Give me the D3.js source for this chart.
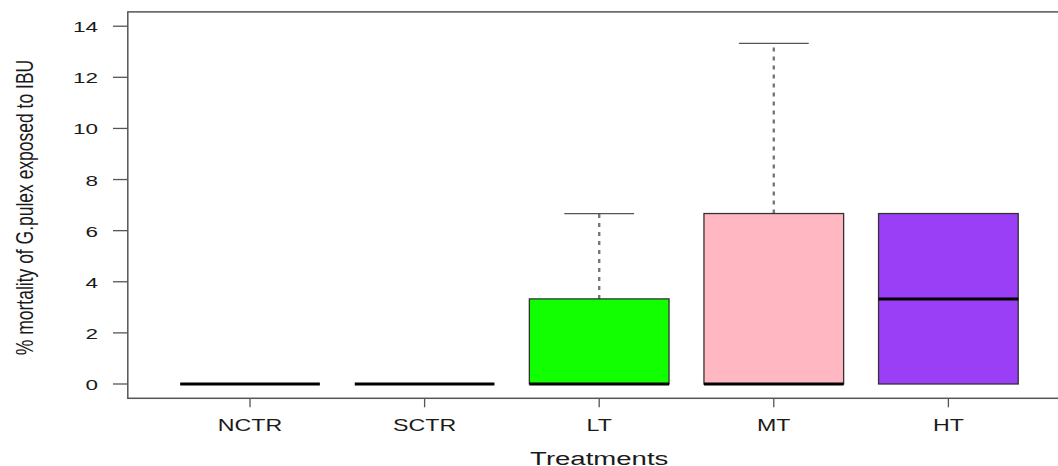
<!DOCTYPE html>
<html>
<head>
<meta charset="utf-8">
<script src="https://cdn.jsdelivr.net/npm/d3@7"></script>
<style>
  body { margin: 0; background: #fff; }
  svg { display: block; }
  text { font-family: "Liberation Sans", Arial, sans-serif; fill: #1a1a1a; }
</style>
</head>
<body>
<svg width="1058" height="466"></svg>
<script>
// boxplot summary per treatment
var treatments   = ["NCTR", "SCTR", "LT", "MT", "HT"];
var lowWhisker   = [0, 0, 0, 0, 0];
var q1           = [0, 0, 0, 0, 0];
var median       = [0, 0, 0, 0, 3.33];
var q3           = [0, 0, 3.33, 6.67, 6.67];
var highWhisker  = [0, 0, 6.67, 13.33, 6.67];
var yTicks       = [0, 2, 4, 6, 8, 10, 12, 14];

var boxColors = ["#ffffff", "#ffffff", "#11ff00", "#ffb8c2", "#9a3ff5"];

var svg = d3.select("svg");
var stretch = 1.45; // the original picture is wider than it is tall

// R-style axis ranges: xlim 0.5..5.5 and ylim 0..14, each padded by 4%
var x = d3.scaleLinear().domain([0.3, 5.7]).range([127.8, 1070.6]);
var y = d3.scaleLinear().domain([-0.56, 14.56]).range([398.3, 11.9]);

var boxW = (x(1.4) - x(1)) ; // half width of a box (0.8 wide boxes)
var stapleW = boxW / 2;

var data = treatments.map(function (t, i) {
	return { name: t, pos: i + 1, lo: lowWhisker[i], q1: q1[i], med: median[i], q3: q3[i], hi: highWhisker[i], fill: boxColors[i] };
});

var g = svg.append("g");

// whiskers
g.selectAll(".whisk").data(data.filter(function (d) { return d.hi > d.q3; }))
	.enter().append("line")
	.attr("x1", function (d) { return x(d.pos); })
	.attr("x2", function (d) { return x(d.pos); })
	.attr("y1", function (d) { return y(d.q3); })
	.attr("y2", function (d) { return y(d.hi); })
	.attr("stroke", "#777").attr("stroke-width", 2.4).attr("stroke-dasharray", "4,5");

// staples
g.selectAll(".staple").data(data)
	.enter().append("line")
	.attr("x1", function (d) { return x(d.pos) - stapleW; })
	.attr("x2", function (d) { return x(d.pos) + stapleW; })
	.attr("y1", function (d) { return y(d.hi); })
	.attr("y2", function (d) { return y(d.hi); })
	.attr("stroke", "#555").attr("stroke-width", 1.2);

// boxes
g.selectAll(".box").data(data)
	.enter().append("rect")
	.attr("x", function (d) { return x(d.pos) - boxW; })
	.attr("width", 2 * boxW)
	.attr("y", function (d) { return y(d.q3); })
	.attr("height", function (d) { return y(d.q1) - y(d.q3); })
	.attr("fill", function (d) { return d.fill; })
	.attr("stroke", "#333").attr("stroke-width", 1.3);

// medians
g.selectAll(".med").data(data)
	.enter().append("line")
	.attr("x1", function (d) { return x(d.pos) - boxW; })
	.attr("x2", function (d) { return x(d.pos) + boxW; })
	.attr("y1", function (d) { return y(d.med); })
	.attr("y2", function (d) { return y(d.med); })
	.attr("stroke", "#000").attr("stroke-width", 3);

// frame
svg.append("rect")
	.attr("x", x(0.3)).attr("y", y(14.56))
	.attr("width", x(5.7) - x(0.3)).attr("height", y(-0.56) - y(14.56))
	.attr("fill", "none").attr("stroke", "#555").attr("stroke-width", 1.5);

// y axis
var yAxis = svg.append("g");
yAxis.selectAll("line").data(yTicks).enter().append("line")
	.attr("x1", 113).attr("x2", x(0.3))
	.attr("y1", function (d) { return y(d); })
	.attr("y2", function (d) { return y(d); })
	.attr("stroke", "#555").attr("stroke-width", 1.3);
yAxis.selectAll("text").data(yTicks).enter().append("text")
	.attr("transform", function (d) { return "translate(98," + (y(d) + 6) + ") scale(" + stretch + ",1)"; })
	.attr("text-anchor", "end")
	.style("font-size", "15.5px")
	.text(function (d) { return d; });

// x axis
var xAxis = svg.append("g");
xAxis.selectAll("line").data(data).enter().append("line")
	.attr("x1", function (d) { return x(d.pos); })
	.attr("x2", function (d) { return x(d.pos); })
	.attr("y1", y(-0.56)).attr("y2", y(-0.56) + 9)
	.attr("stroke", "#555").attr("stroke-width", 1.3);
xAxis.selectAll("text").data(data).enter().append("text")
	.attr("transform", function (d) { return "translate(" + x(d.pos) + ",431) scale(" + stretch + ",1)"; })
	.attr("text-anchor", "middle")
	.style("font-size", "16px")
	.text(function (d) { return d.name; });

// axis titles
svg.append("text")
	.attr("transform", "translate(" + x(3) + ",465) scale(" + stretch + ",1)")
	.attr("text-anchor", "middle")
	.style("font-size", "19px")
	.text("Treatments");

svg.append("text")
	.attr("transform", "translate(32.5,207.5) rotate(-90) scale(1,1.4)")
	.attr("text-anchor", "middle")
	.style("font-size", "17.5px")
	.text("% mortality of G.pulex exposed to IBU");
</script>
</body>
</html>
